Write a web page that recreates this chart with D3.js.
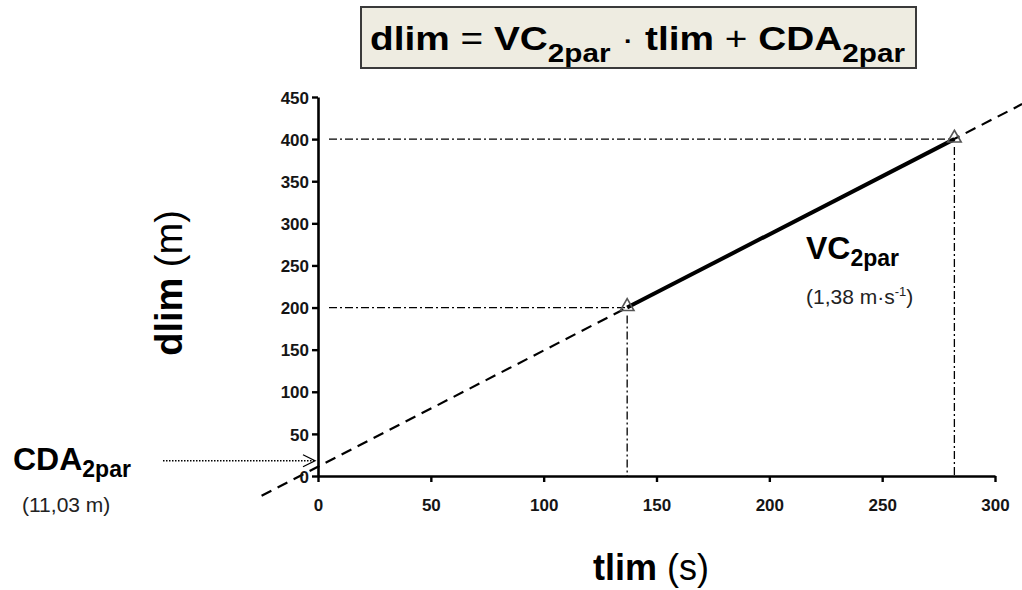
<!DOCTYPE html>
<html>
<head>
<meta charset="utf-8">
<script src="https://cdn.jsdelivr.net/npm/d3@7"></script>
<style>
  html, body { margin: 0; padding: 0; background: #fff; }
  svg { display: block; font-family: "Liberation Sans", Arial, sans-serif; }
</style>
</head>
<body>
<svg id="chart" width="1022" height="590"></svg>
<script>
// Measured limit points (time to exhaustion in s, distance in m)
const tlimPoints = [137, 282];
const dlimPoints = [200, 400];

// Linear fit: dlim = VC * tlim + CDA
const vcSlope = 1.38;       // m·s-1
const cdaIntercept = 11.03; // m
const fitRange = [-25, 312];

const xTicks = [0, 50, 100, 150, 200, 250, 300];
const yTicks = [0, 50, 100, 150, 200, 250, 300, 350, 400, 450];

const svg = d3.select("#chart");

const x = d3.scaleLinear().domain([0, 300]).range([318, 995]);
const y = d3.scaleLinear().domain([0, 450]).range([476, 97]);

// Formula box
const box = svg.append("g");
box.append("rect")
  .attr("x", 361).attr("y", 7).attr("width", 555).attr("height", 61)
  .attr("fill", "#eeece1").attr("stroke", "#3a3a3a").attr("stroke-width", 2);

const formula = box.append("text")
  .attr("x", 370).attr("y", 50)
  .attr("font-size", 34).attr("font-weight", "bold").attr("fill", "#000")
  .attr("textLength", 535).attr("lengthAdjust", "spacingAndGlyphs");
formula.append("tspan").text("dlim ");
formula.append("tspan").attr("font-weight", "normal").text("= ");
formula.append("tspan").text("VC");
formula.append("tspan").attr("font-size", 26).attr("dy", 12).text("2par");
formula.append("tspan").attr("font-weight", "normal").attr("dy", -12).text("  · ");
formula.append("tspan").text("tlim ");
formula.append("tspan").attr("font-weight", "normal").text("+ ");
formula.append("tspan").text("CDA");
formula.append("tspan").attr("font-size", 26).attr("dy", 12).text("2par");

// Dash-dot guides from each point to the axes
const guides = svg.append("g")
  .attr("fill", "none").attr("stroke", "#000").attr("stroke-width", 1.3)
  .attr("stroke-dasharray", "8,3,2,3");
tlimPoints.forEach((t, i) => {
  guides.append("line")
    .attr("x1", x(0) + 11).attr("x2", x(t))
    .attr("y1", y(dlimPoints[i])).attr("y2", y(dlimPoints[i]));
  guides.append("line")
    .attr("x1", x(t)).attr("x2", x(t))
    .attr("y1", y(dlimPoints[i]) + 8).attr("y2", y(0));
});

// Extended regression line (dashed)
const fitLine = d3.line().x(d => x(d)).y(d => y(vcSlope * d + cdaIntercept));
svg.append("path")
  .datum(fitRange)
  .attr("d", fitLine)
  .attr("fill", "none").attr("stroke", "#000").attr("stroke-width", 2.2)
  .attr("stroke-dasharray", "11,7");

// Axes
const yAxis = svg.append("g")
  .attr("transform", `translate(${x(0)},0)`)
  .call(d3.axisLeft(y).tickValues(yTicks).tickSize(6).tickSizeOuter(0).tickPadding(3));
const xAxis = svg.append("g")
  .attr("transform", `translate(0,${y(0)})`)
  .call(d3.axisBottom(x).tickValues(xTicks).tickSize(6).tickSizeOuter(0).tickPadding(17));
[yAxis, xAxis].forEach(a => {
  a.select(".domain").attr("stroke", "#000").attr("stroke-width", 2.6);
  a.selectAll(".tick line").attr("stroke", "#000").attr("stroke-width", 2.4);
  a.selectAll(".tick text")
    .attr("font-family", "'Liberation Sans', Arial, sans-serif")
    .attr("font-size", 17).attr("font-weight", "bold").attr("fill", "#151515");
});
yAxis.selectAll(".tick text").attr("dy", "0.36em");

// Solid segment between the two limit points
svg.append("path")
  .datum(tlimPoints.map((t, i) => [t, dlimPoints[i]]))
  .attr("d", d3.line().x(d => x(d[0])).y(d => y(d[1])))
  .attr("fill", "none").attr("stroke", "#000").attr("stroke-width", 4);

// Open triangle markers
svg.append("g").selectAll("path")
  .data(tlimPoints.map((t, i) => [t, dlimPoints[i]]))
  .join("path")
  .attr("transform", d => `translate(${x(d[0])},${y(d[1]) - 1})`)
  .attr("d", d3.symbol(d3.symbolTriangle, 80))
  .attr("fill", "none").attr("stroke", "#555").attr("stroke-width", 1.6);

// Axis titles
const yTitle = svg.append("text")
  .attr("transform", "translate(182,283) rotate(-90)")
  .attr("text-anchor", "middle").attr("font-size", 38).attr("fill", "#000");
yTitle.append("tspan").attr("font-weight", "bold").text("dlim ");
yTitle.append("tspan").text("(m)");

const xTitle = svg.append("text")
  .attr("x", 651).attr("y", 580)
  .attr("text-anchor", "middle").attr("font-size", 36).attr("fill", "#000");
xTitle.append("tspan").attr("font-weight", "bold").text("tlim ");
xTitle.append("tspan").text("(s)");

// Slope annotation
const vcLabel = svg.append("text").attr("x", 806).attr("y", 259)
  .attr("font-size", 32).attr("font-weight", "bold").attr("fill", "#000");
vcLabel.append("tspan").text("VC");
vcLabel.append("tspan").attr("font-size", 23).attr("dy", 7).text("2par");
const vcValue = svg.append("text").attr("x", 806).attr("y", 304)
  .attr("font-size", 21).attr("fill", "#222");
vcValue.append("tspan").text("(1,38 m·s");
vcValue.append("tspan").attr("font-size", 13).attr("dy", -8).text("-1");
vcValue.append("tspan").attr("dy", 8).text(")");

// Intercept annotation with dotted arrow
const cdaLabel = svg.append("text").attr("x", 13).attr("y", 470)
  .attr("font-size", 32).attr("font-weight", "bold").attr("fill", "#000");
cdaLabel.append("tspan").text("CDA");
cdaLabel.append("tspan").attr("font-size", 23).attr("dy", 7).text("2par");
svg.append("text").attr("x", 22).attr("y", 512)
  .attr("font-size", 21).attr("fill", "#222").text("(11,03 m)");

const arrowY = y(cdaIntercept) - 6;
svg.append("line")
  .attr("x1", 163).attr("x2", x(0) - 4)
  .attr("y1", arrowY).attr("y2", arrowY)
  .attr("stroke", "#000").attr("stroke-width", 1.5).attr("stroke-dasharray", "1.5,1.5");
svg.append("path")
  .attr("d", `M${x(0) - 15},${arrowY - 6}L${x(0) - 3},${arrowY}L${x(0) - 15},${arrowY + 6}`)
  .attr("fill", "none").attr("stroke", "#000").attr("stroke-width", 1.3);
</script>
</body>
</html>
